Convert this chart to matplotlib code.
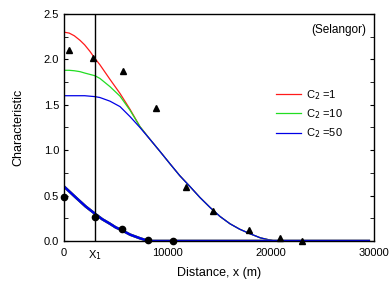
import matplotlib
matplotlib.use("Agg")
import matplotlib.pyplot as plt
from matplotlib.ticker import MultipleLocator, FormatStrFormatter

plt.rcParams['font.family'] = ['Liberation Sans', 'DejaVu Sans']

# observed data
tri_x = [480, 2800, 5700, 8900, 11800, 14400, 17900, 20900, 23000]
tri_y = [2.10, 2.02, 1.87, 1.47, 0.60, 0.33, 0.12, 0.03, 0.00]
cir_x = [0, 3000, 5600, 8100, 10550]
cir_y = [0.49, 0.26, 0.13, 0.01, 0.00]

# model curves (upper)
up_x = [0, 500, 1000, 1550, 2000, 2500, 3000, 3480, 4450, 5420, 6390, 7350,
        8320, 9300, 10260, 11200, 12190, 13150, 14130, 15100, 16060, 17000,
        18000, 19000, 19940, 20400, 29500]
red_y = [2.30, 2.29, 2.26, 2.21, 2.16, 2.09, 2.01, 1.94, 1.78, 1.625, 1.45, 1.26,
         1.12, 0.985, 0.85, 0.72, 0.60, 0.48, 0.37, 0.27, 0.19, 0.13,
         0.08, 0.035, 0.01, 0.0, 0.0]
green_y = [1.88, 1.88, 1.875, 1.865, 1.85, 1.835, 1.82, 1.79, 1.70, 1.595, 1.44, 1.26,
           1.12, 0.985, 0.85, 0.72, 0.60, 0.48, 0.37, 0.27, 0.19, 0.13,
           0.08, 0.035, 0.01, 0.0, 0.0]
blue_y = [1.60, 1.60, 1.60, 1.60, 1.60, 1.595, 1.59, 1.58, 1.54, 1.48, 1.37, 1.25,
          1.12, 0.985, 0.85, 0.72, 0.60, 0.48, 0.37, 0.27, 0.19, 0.13,
          0.08, 0.035, 0.01, 0.0, 0.0]

# model curves (lower)
lo_x = [0, 1230, 2100, 3000, 3700, 4450, 5000, 5580, 6400, 7350, 7900, 8300, 29500]
lo_y = [0.60, 0.47, 0.38, 0.30, 0.24, 0.19, 0.15, 0.12, 0.07, 0.03, 0.01, 0.0, 0.0]

x1 = 3000
xticks = [0, x1, 10000, 20000, 30000]
xticklabels = ['0', 'X$_1$', '10000', '20000', '30000']

fig = plt.figure(figsize=(3.92, 2.86), dpi=100)
ax = fig.add_axes([64/392, 1-241/286, (374-64)/392, (241-14)/286])

ax.plot(up_x, red_y, color='#ff1a1a', lw=0.9, label='C$_2$ =1')
ax.plot(up_x, green_y, color='#22dd22', lw=0.9, label='C$_2$ =10')
ax.plot(up_x, blue_y, color='#0000e6', lw=0.9, label='C$_2$ =50')
ax.plot(lo_x, lo_y, color='#ff1a1a', lw=1.8)
ax.plot(lo_x, lo_y, color='#22dd22', lw=1.8)
ax.plot(lo_x, lo_y, color='#0000e6', lw=1.8)

ax.plot(tri_x, tri_y, '^', color='black', ms=5, clip_on=False)
ax.plot(cir_x, cir_y, 'o', color='black', ms=4.5, clip_on=False)

ax.axvline(x1, color='black', lw=1.0)

ax.set_xlim(0, 30000)
ax.set_ylim(0, 2.5)
ax.set_xticks(xticks)
ax.set_xticklabels(xticklabels)
ax.yaxis.set_major_locator(MultipleLocator(0.5))
ax.yaxis.set_minor_locator(MultipleLocator(0.25))
ax.yaxis.set_major_formatter(FormatStrFormatter('%.1f'))
ax.tick_params(axis='x', length=0, labelsize=8, pad=5)
ax.tick_params(axis='y', which='both', direction='in', right=True, length=3, labelsize=8)
for s in ax.spines.values():
    s.set_linewidth(1.0)

ax.set_xlabel('Distance, x (m)', fontsize=9, labelpad=4)
ax.set_ylabel('Characteristic', fontsize=9, labelpad=14)

ax.text(0.975, 0.93, '(Selangor)', transform=ax.transAxes, ha='right', va='center', fontsize=8.5)

leg = ax.legend(loc='upper left', bbox_to_anchor=(0.685, 0.675), frameon=False,
                fontsize=8, handlelength=2.25, handletextpad=0.4, labelspacing=0.5,
                borderaxespad=0, borderpad=0)

fig.savefig('out.png', dpi=100)
